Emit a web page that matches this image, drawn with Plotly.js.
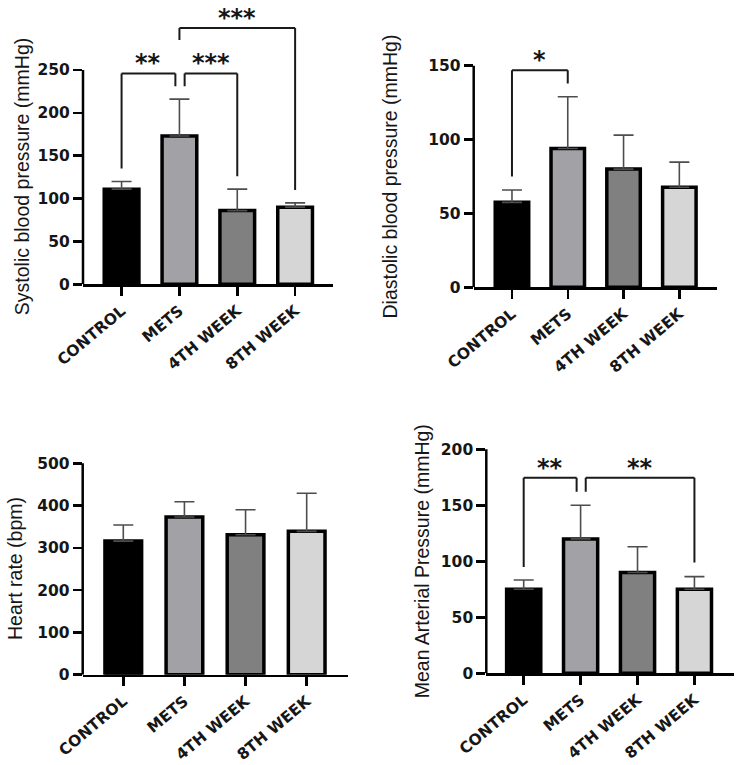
<!DOCTYPE html>
<html><head><meta charset="utf-8">
<script src="https://cdn.plot.ly/plotly-3.0.1.min.js"></script>
<style>html,body{margin:0;padding:0;background:#fff}#chart{width:744px;height:765px}</style>
</head><body><div id="chart"></div>
<script>
// ---------------- data ----------------
const categories = ['CONTROL', 'METS', '4TH WEEK', '8TH WEEK'];
const barColors = ['#000000', '#a2a2a6', '#808080', '#d6d6d6'];

const sbpTitle = 'Systolic blood pressure (mmHg)';
const sbpMean = [111, 173, 86, 90];
const sbpErr = [9, 43, 25, 5];
const sbpTicks = [0, 50, 100, 150, 200, 250];
const sbpPairs = [[0, 1], [1, 2], [1, 3]];
const sbpLevels = [246, 246, 299];
const sbpLegEnds = [[135, 231], [231, 126], [285, 110]];
const sbpStars = ['**', '***', '***'];

const dbpTitle = 'Diastolic blood pressure (mmHg)';
const dbpMean = [57.5, 94, 80, 67.7];
const dbpErr = [8.4, 35, 23, 17];
const dbpTicks = [0, 50, 100, 150];
const dbpPairs = [[0, 1]];
const dbpLevels = [147];
const dbpLegEnds = [[75, 138]];
const dbpStars = ['*'];

const hrTitle = 'Heart rate (bpm)';
const hrMean = [316, 373, 331, 339];
const hrErr = [38, 36, 59, 90];
const hrTicks = [0, 100, 200, 300, 400, 500];
const hrPairs = [];
const hrLevels = [];
const hrLegEnds = [];
const hrStars = [];

const mapTitle = 'Mean Arterial Pressure (mmHg)';
const mapMean = [75, 120, 90, 75];
const mapErr = [8.3, 30, 23, 11.3];
const mapTicks = [0, 50, 100, 150, 200];
const mapPairs = [[0, 1], [1, 3]];
const mapLevels = [174.6, 174.6];
const mapLegEnds = [[95, 162], [162, 99]];
const mapStars = ['**', '**'];

// ---------------- layout geometry (pixels) ----------------
const W = 744, H = 765;
const panels = [
  {title: sbpTitle, mean: sbpMean, err: sbpErr, ticks: sbpTicks, pairs: sbpPairs, levels: sbpLevels, legs: sbpLegEnds, stars: sbpStars,
   xPix: [83, 333], y0Pix: 284.3, topTickPix: 70, xr: [-0.667, 3.655], yTop: 312, titleX: 22},
  {title: dbpTitle, mean: dbpMean, err: dbpErr, ticks: dbpTicks, pairs: dbpPairs, levels: dbpLevels, legs: dbpLegEnds, stars: dbpStars,
   xPix: [473.7, 717], y0Pix: 287.3, topTickPix: 65.7, xr: [-0.686, 3.675], yTop: 162, titleX: 390},
  {title: hrTitle, mean: hrMean, err: hrErr, ticks: hrTicks, pairs: hrPairs, levels: hrLevels, legs: hrLegEnds, stars: hrStars,
   xPix: [82.7, 348], y0Pix: 674.7, topTickPix: 463.3, xr: [-0.664, 3.676], yTop: 505, titleX: 15},
  {title: mapTitle, mean: mapMean, err: mapErr, ticks: mapTicks, pairs: mapPairs, levels: mapLevels, legs: mapLegEnds, stars: mapStars,
   xPix: [486.3, 733.7], y0Pix: 673.3, topTickPix: 449.3, xr: [-0.657, 3.69], yTop: 202, titleX: 422}
];

const tickFont = {family: 'DejaVu Sans', size: 15.5, color: '#161616', weight: 'bold'};
const catFont = {family: 'DejaVu Sans', size: 15.5, color: '#161616', weight: 'bold'};
const titleFont = {family: 'Liberation Sans, Arial', size: 19.5, color: '#161616'};
const starFont = {family: 'DejaVu Sans', size: 24, color: '#161616', weight: 'bold'};

const traces = [];
const layout = {
  width: W, height: H, margin: {l: 0, r: 0, t: 0, b: 0},
  paper_bgcolor: '#fff', plot_bgcolor: 'rgba(0,0,0,0)',
  showlegend: false, bargap: 0, shapes: [], annotations: []
};

panels.forEach((p, i) => {
  const n = i + 1;
  const xa = 'xaxis' + (n === 1 ? '' : n), ya = 'yaxis' + (n === 1 ? '' : n);
  const xr = 'x' + (n === 1 ? '' : n), yr = 'y' + (n === 1 ? '' : n);
  const tickTop = p.ticks[p.ticks.length - 1];
  const scale = (p.y0Pix - p.topTickPix) / tickTop;
  const topPix = p.y0Pix - p.yTop * scale;

  traces.push({
    type: 'bar', x: categories, y: p.mean, xaxis: xr, yaxis: yr, width: 0.6,
    marker: {color: barColors, line: {color: '#000', width: 3.5}},
    error_y: {type: 'data', symmetric: false, array: p.err, arrayminus: p.err.map(() => 0),
              color: '#4d4d4d', thickness: 1.6, width: 10},
    hoverinfo: 'x+y'
  });

  layout[xa] = {
    domain: [p.xPix[0] / W, p.xPix[1] / W], anchor: yr, type: 'category',
    categoryorder: 'array', categoryarray: categories, range: p.xr,
    showline: true, linecolor: '#000', linewidth: 2.5, showgrid: false, zeroline: false,
    ticks: 'outside', ticklen: 9, tickwidth: 2.5, tickcolor: '#000',
    tickangle: -40, tickfont: catFont, fixedrange: true
  };
  layout[ya] = {
    domain: [1 - p.y0Pix / H, 1 - topPix / H], anchor: xr, range: [0, p.yTop],
    tickmode: 'array', tickvals: p.ticks, ticktext: p.ticks.map(String),
    showline: false, showgrid: false, zeroline: false,
    ticks: 'outside', ticklen: 9, tickwidth: 2.5, tickcolor: '#000',
    tickfont: tickFont, fixedrange: true
  };
  // y axis line only up to the top tick
  layout.shapes.push({type: 'line', xref: xr + ' domain', yref: yr, x0: 0, x1: 0, y0: 0, y1: tickTop,
                      line: {color: '#000', width: 2.5}});
  // axis title
  layout.annotations.push({xref: 'paper', yref: yr, x: p.titleX / W, y: tickTop / 2, text: p.title,
                           textangle: -90, showarrow: false, font: titleFont, xanchor: 'center', yanchor: 'middle'});

  // significance brackets
  p.pairs.forEach((pr, k) => {
    let a = pr[0], b = pr[1];
    // shift shared endpoints apart when two brackets meet at the same level
    p.pairs.forEach((q, m) => {
      if (m === k || p.levels[m] !== p.levels[k]) return;
      if (q[0] === b) b -= 0.07;
      if (q[1] === a) a += 0.09;
    });
    const lvl = p.levels[k];
    const ln = {color: '#1a1a1a', width: 2};
    layout.shapes.push({type: 'line', xref: xr, yref: yr, x0: a, x1: b, y0: lvl, y1: lvl, line: ln});
    layout.shapes.push({type: 'line', xref: xr, yref: yr, x0: a, x1: a, y0: lvl, y1: p.legs[k][0], line: ln});
    layout.shapes.push({type: 'line', xref: xr, yref: yr, x0: b, x1: b, y0: lvl, y1: p.legs[k][1], line: ln});
    layout.annotations.push({xref: xr, yref: yr, x: (a + b) / 2, y: lvl, text: p.stars[k], showarrow: false,
                             font: starFont, xanchor: 'center', yanchor: 'middle', yshift: 10});
  });
});

Plotly.newPlot('chart', traces, layout, {staticPlot: true, displayModeBar: false});
</script>
</body></html>
